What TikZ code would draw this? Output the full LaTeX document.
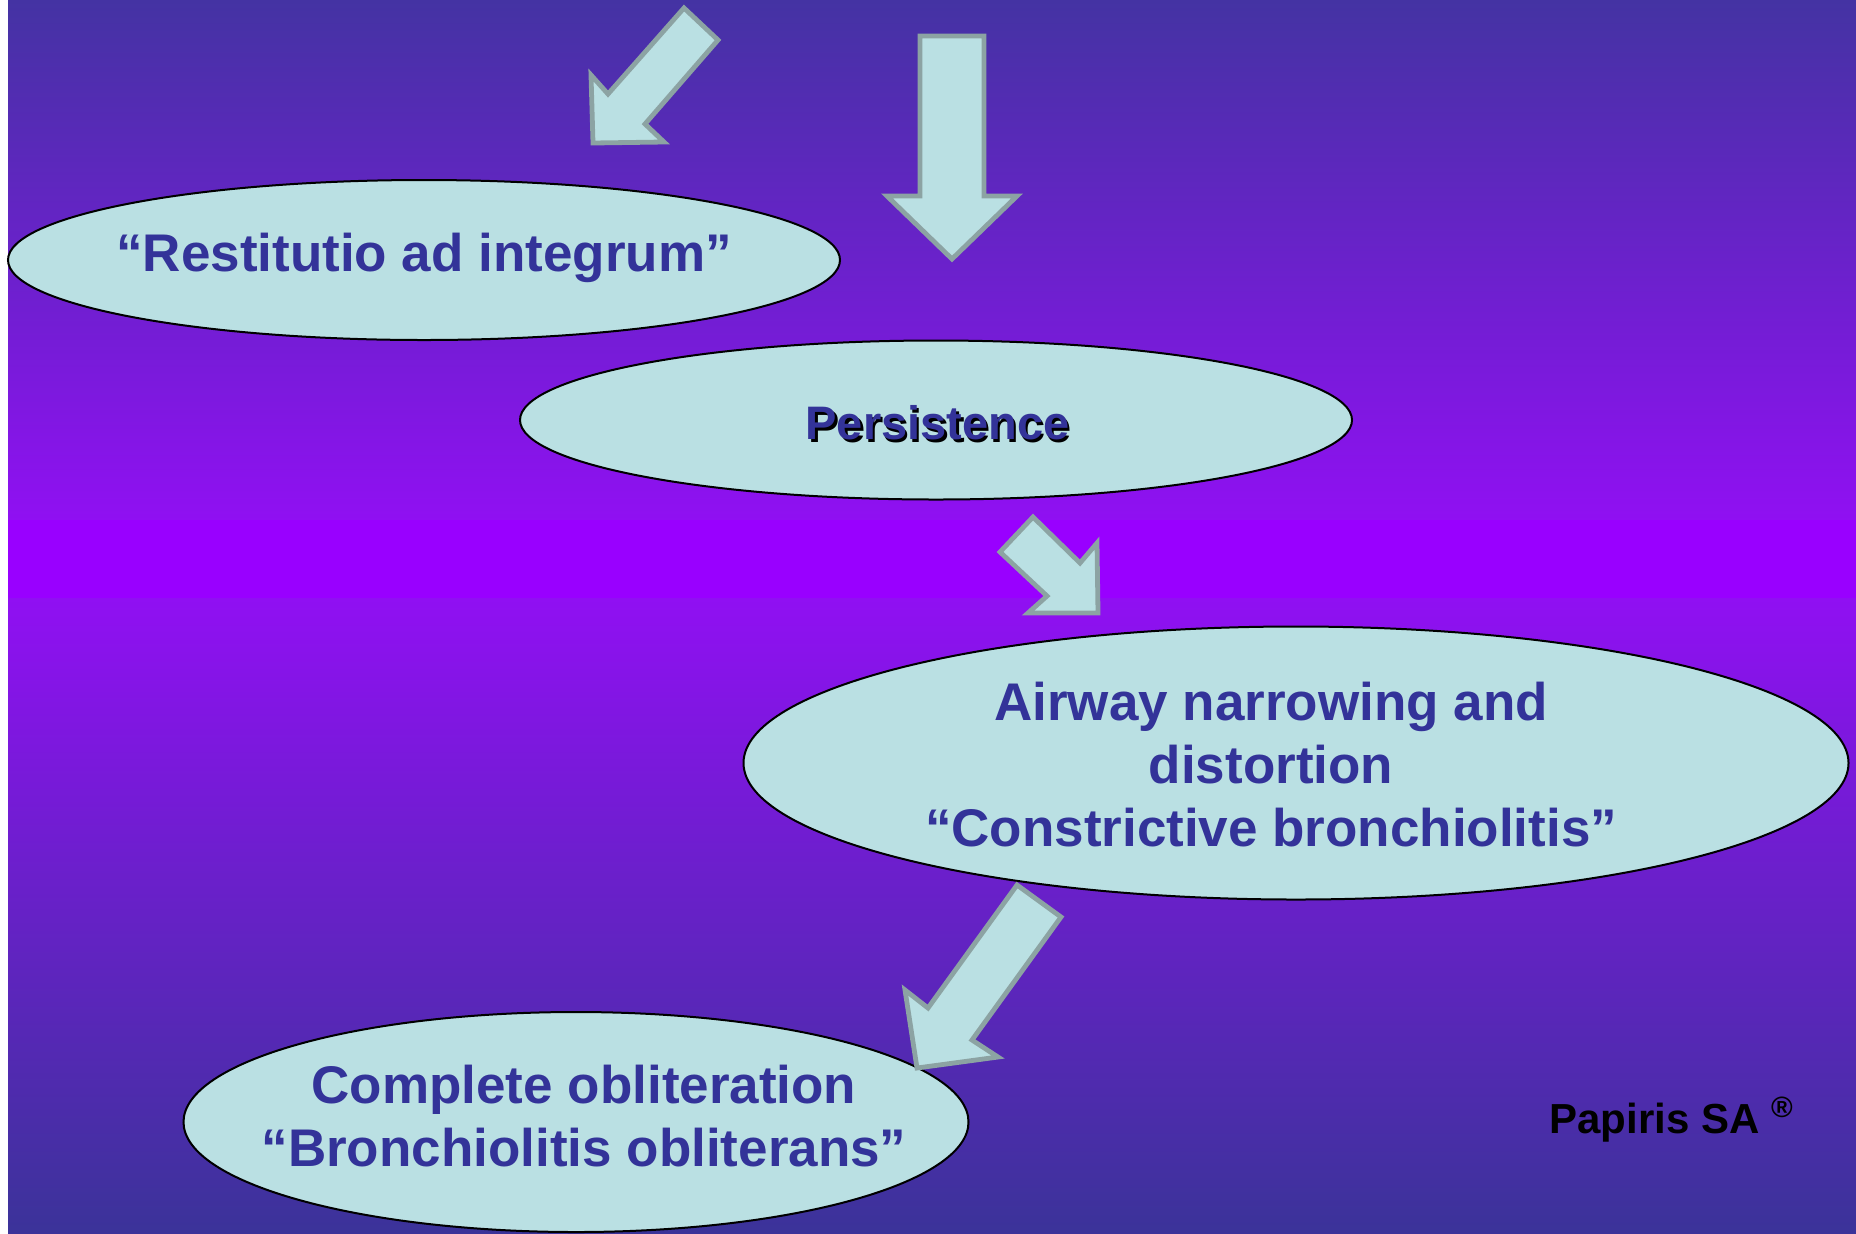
\documentclass[tikz,border=0pt]{standalone}
\usepackage{fontspec}
\setmainfont{Liberation Sans}
\usepackage{xcolor}
\usepackage{tikz}
\usetikzlibrary{shapes.geometric, positioning}
\definecolor{deepviolet}{HTML}{4433A3}
\definecolor{midviolet}{HTML}{9010F2}
\definecolor{brightviolet}{HTML}{9900FF}
\definecolor{lowviolet}{HTML}{3B3399}
\definecolor{paleteal}{HTML}{BAE0E3}
\definecolor{greyteal}{HTML}{8CA3A3}
\definecolor{inkblue}{HTML}{333399}
\tikzset{
  bubble/.style={ellipse, draw=black, line width=1pt, fill=paleteal, inner sep=0pt},
  bubbletext/.style={align=center, text=inkblue, inner sep=0pt,
                     font=\fontsize{26.5}{31.5}\selectfont\bfseries},
  persfont/.style={bubbletext, font=\fontsize{23.5}{28}\selectfont\bfseries},
  bigarrow/.style={draw=greyteal, fill=paleteal, line width=2.4pt, line join=miter},
}

\begin{document}
\begin{tikzpicture}[x=0.5pt, y=-0.5pt]
  \useasboundingbox (0,0) rectangle (1856,1233);
  \clip (0,0) rectangle (1856,1233);
  \shade[top color=deepviolet, bottom color=midviolet] (8,0) rectangle (1856,521);
  \fill[brightviolet] (8,520) rectangle (1856,599);
  \shade[top color=midviolet, bottom color=lowviolet] (8,598) rectangle (1856,1233);

  \node[bubble, minimum width=416pt, minimum height=80pt]    (rest)   at (424,260)  {};
  \node[bubble, minimum width=416pt, minimum height=79.5pt]  (pers)   at (936,420)  {};
  \node[bubble, minimum width=552.5pt, minimum height=136.5pt] (airway) at (1296,763) {};
  \node[bubble, minimum width=392.5pt, minimum height=110pt] (oblit)  at (576,1122) {};

  \node[bubbletext] (resttext) at (424,258) {“Restitutio ad integrum”};
  \node[persfont, text=black] (persshadow) at (940,426) {Persistence};
  \node[persfont] (perstext) at (937.5,423) {Persistence};
  \node[bubbletext] (airtext) at (1271,765)
    {Airway narrowing and\\distortion\\“Constrictive bronchiolitis”};
  \node[bubbletext] (oblittext) at (584,1116)
    {Complete obliteration\\“Bronchiolitis obliterans”};
  \node[anchor=base west, inner sep=0pt, font=\fontsize{21}{25}\selectfont\bfseries]
    (papiris) at (1549,1133) {Papiris SA \textsuperscript{®}};

  \draw[bigarrow] (684,8) -- (718,40) -- (645,124) -- (664,142) -- (593,143)
    -- (591,75) -- (608,94) -- cycle;
  \draw[bigarrow] (920,36) -- (984,36) -- (984,196) -- (1017,196) -- (952,259)
    -- (887,196) -- (920,196) -- cycle;
  \draw[bigarrow] (1033,517) -- (1080,563) -- (1097,543) -- (1098,613) -- (1028,613)
    -- (1047,596) -- (1000,552) -- cycle;
  \draw[bigarrow] (1017,885) -- (1061,917) -- (972,1040) -- (998,1057) -- (917,1068)
    -- (905,990) -- (928,1008) -- cycle;
\end{tikzpicture}
\end{document}
